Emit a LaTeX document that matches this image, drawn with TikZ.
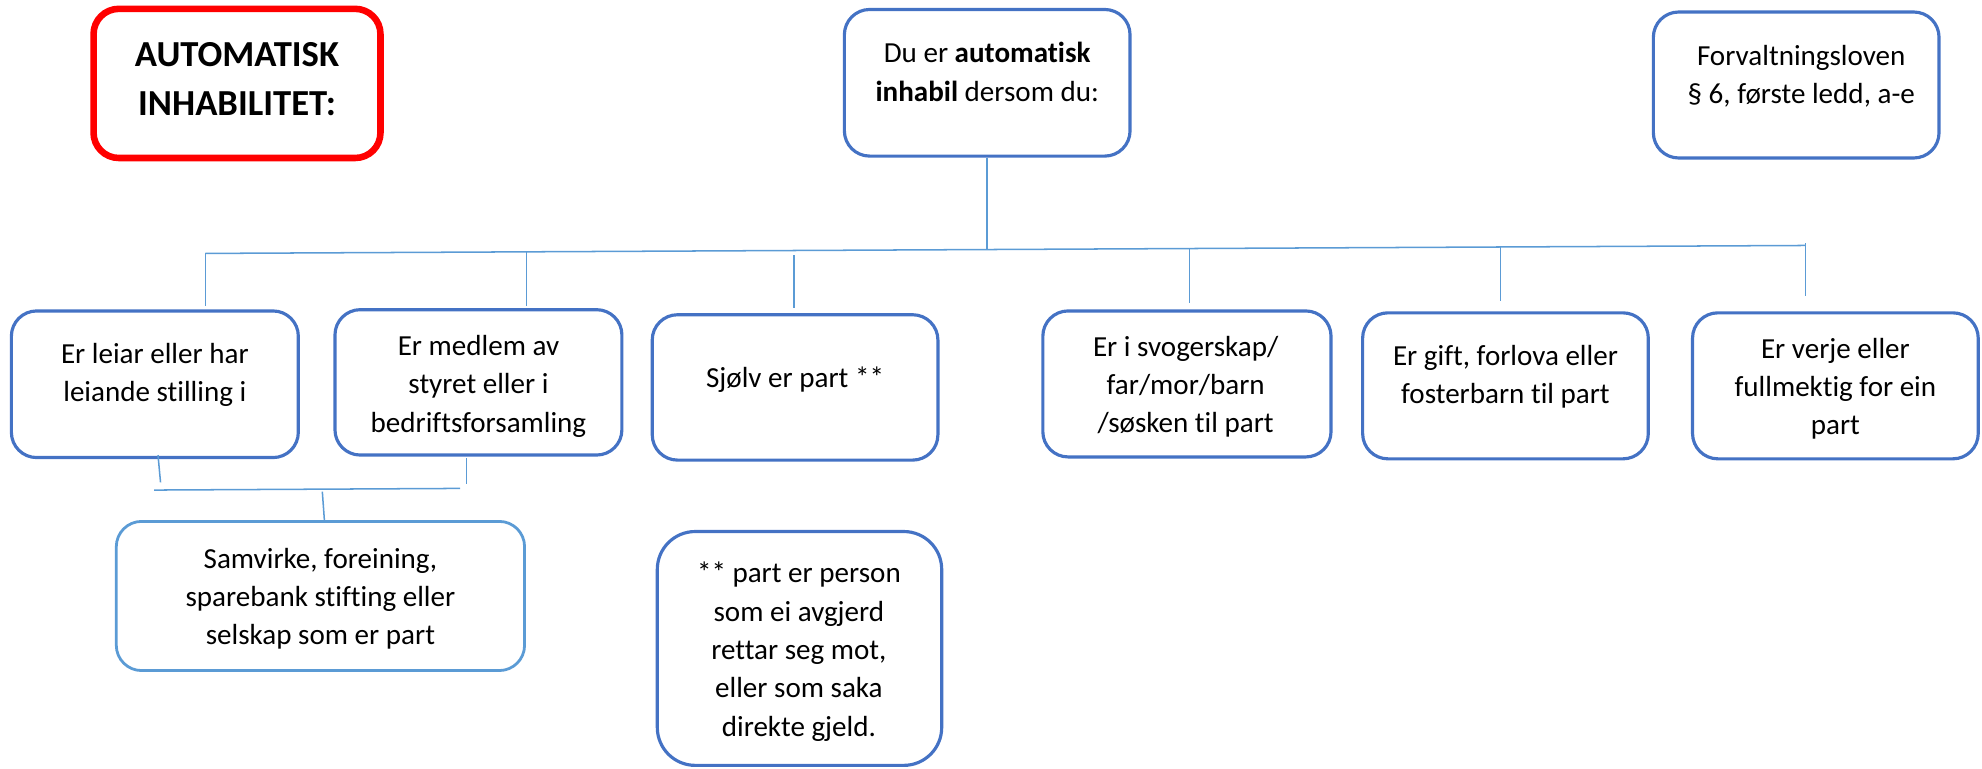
\documentclass[tikz,border=0pt]{standalone}
\usepackage{fontspec}
\setmainfont{Carlito}[Ligatures=NoCommon]
\usetikzlibrary{fit}
\definecolor{boxblue}{HTML}{4472C4}
\definecolor{linkblue}{HTML}{5B9BD5}
\definecolor{alertred}{HTML}{FF0000}
\begin{document}
\begin{tikzpicture}[x=0.5pt,y=-0.5pt,
  bluebox/.style={draw=boxblue, line width=1.25pt, rounded corners=10pt, inner sep=0pt},
  lightbox/.style={draw=linkblue, line width=1.1pt, rounded corners=10pt, inner sep=0pt},
  redbox/.style={draw=alertred, line width=2.6pt, rounded corners=10pt, inner sep=0pt},
  txt/.style={align=center, inner sep=0pt, font=\fontsize{11.5}{15.15}\selectfont},
  redtxt/.style={align=center, inner sep=0pt, font=\bfseries\fontsize{14.5}{19.15}\selectfont},
  conn/.style={draw=linkblue, line width=0.6pt}]
\useasboundingbox (0,0) rectangle (1568,608);

% boxes
\node[redbox, fit={(74,7) (301,125)}] (red) {};
\node[redtxt] (redt) at (187.5,64.4) {\strut AUTOMATISK\\INHABILITET:\strut};

\node[bluebox, fit={(668,7.5) (894,123.5)}] (top) {};
\node[txt] (topt) at (781,58.8) {\strut Du er \textbf{automatisk}\\\textbf{inhabil} dersom du:\strut};

\node[bluebox, fit={(1308,9.5) (1534,125)}] (forv) {};
\node[txt] (forvt) at (1425,60.8) {\strut Forvaltningsloven\\§ 6, første ledd, a-e\strut};

\node[bluebox, fit={(9,246) (236,362)}] (b1) {};
\node[txt] (b1t) at (122.5,296.5) {\strut Er leiar eller har\\leiande stilling i\strut};

\node[bluebox, fit={(265,245) (492,360)}] (b2) {};
\node[txt] (b2t) at (378.5,305.5) {\strut Er medlem av\\styret eller i\\bedriftsforsamling\strut};

\node[bluebox, fit={(516,249) (742,364)}] (b3) {};
\node[txt] (b3t) at (629,300.8) {\strut Sjølv er part **\strut};

\node[bluebox, fit={(825,246) (1053,361.5)}] (b4) {};
\node[txt] (b4t) at (938,306) {\strut Er i svogerskap/\\far/mor/barn\\/søsken til part\strut};

\node[bluebox, fit={(1078,247.5) (1304,363)}] (b5) {};
\node[txt] (b5t) at (1191,298) {\strut Er gift, forlova eller\\fosterbarn til part\strut};

\node[bluebox, fit={(1339,247.5) (1565,363)}] (b6) {};
\node[txt] (b6t) at (1452,307.5) {\strut Er verje eller\\fullmektig for ein\\part\strut};

\node[lightbox, fit={(92,412.5) (415,530.5)}] (sam) {};
\node[txt] (samt) at (253.5,473.7) {\strut Samvirke, foreining,\\sparebank stifting eller\\selskap som er part\strut};

\node[bluebox, rounded corners=15pt, fit={(520,420.5) (745,605.5)}] (foot) {};
\node[txt] (foott) at (632,515.7) {\strut ** part er person\\som ei avgjerd\\rettar seg mot,\\eller som saka\\direkte gjeld.\strut};

% bus coordinates
\coordinate (busL) at (162.5,200.5);
\coordinate (busR) at (1428.5,194.2);
\coordinate (jt) at (781,197.4);
\coordinate (j2) at (416.5,199.2);
\coordinate (j3) at (628,202);
\coordinate (j4) at (941,196.6);
\coordinate (j5) at (1187,195.4);
\coordinate (j6) at (1428.5,192.5);
\coordinate (e1) at (162.5,242);
\coordinate (e2) at (416.5,242);
\coordinate (e3) at (628,244);
\coordinate (e4) at (941,240);
\coordinate (e5) at (1187,238);
\coordinate (e6) at (1428.5,234);

\draw[conn] (top.south) -- (jt);
\draw[conn] (busL) -- (busR);
\draw[conn] (busL) -- (e1);
\draw[conn] (j2) -- (e2);
\draw[conn] (j3) -- (e3);
\draw[conn] (j4) -- (e4);
\draw[conn] (j5) -- (e5);
\draw[conn] (j6) -- (e6);

% lower connector group
\coordinate (s1a) at (125,360);
\coordinate (s1b) at (127,381.6);
\coordinate (s2a) at (369,362.7);
\coordinate (s2b) at (369,383);
\coordinate (hL) at (122,387.7);
\coordinate (hR) at (364,386.4);
\coordinate (sd) at (255,389);
\coordinate (se) at (256.7,412.5);
\draw[conn] (s1a) -- (s1b);
\draw[conn] (s2a) -- (s2b);
\draw[conn] (hL) -- (hR);
\draw[conn] (sd) -- (se);
\end{tikzpicture}
\end{document}
